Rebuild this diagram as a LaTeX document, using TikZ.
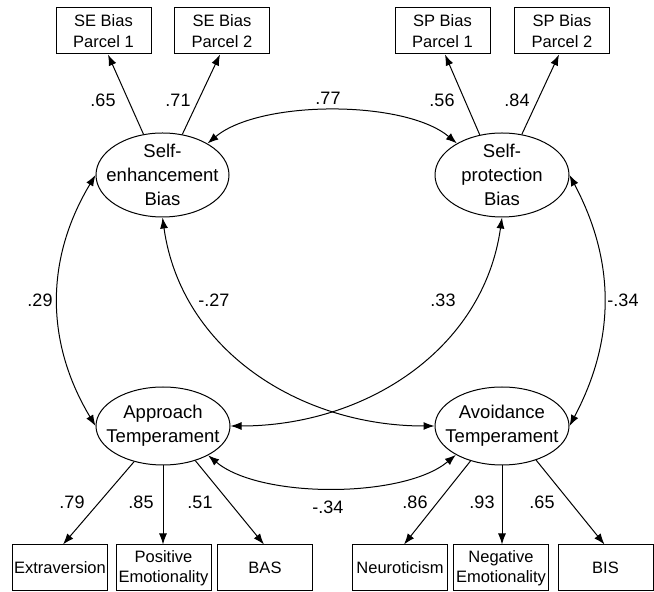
\documentclass[tikz,border=0pt]{standalone}
\usepackage{fontspec}
\setmainfont{Liberation Sans}
\usetikzlibrary{shapes.geometric,arrows.meta}
\tikzset{
	latent/.style={draw,ellipse,inner sep=0pt,line width=1pt,minimum width=134pt,minimum height=78pt}, % latent factors
	latenttext/.style={align=center,font=\fontsize{18.5}{24}\selectfont},
	indicator/.style={draw,rectangle,inner sep=0pt,line width=1pt,minimum width=95pt,minimum height=46pt,align=center,font=\fontsize{16.5}{20.5}\selectfont}, % observed measures
	loading/.style={-{Latex[length=11pt,width=8pt]},line width=1pt},
	corr/.style={{Latex[length=11pt,width=8pt]}-{Latex[length=11pt,width=8pt]},line width=1pt},
	coef/.style={font=\fontsize{18}{20}\selectfont}
}
\begin{document}
\begin{tikzpicture}[x=1pt,y=1pt]
		\useasboundingbox (0,0) rectangle (654,592);
		% Draw latent factors
		\node[latent,minimum width=133pt,minimum height=84pt,label={[latenttext]center:Self-\\enhancement\\Bias}] (se) at (162.5,417) {};
		\node[latent,minimum height=84pt,label={[latenttext]center:Self-\\protection\\Bias}] (sp) at (502,417) {};
		\node[latent,label={[latenttext]center:Approach\\Temperament}] (ap) at (163,166) {};
		\node[latent,label={[latenttext]center:Avoidance\\Temperament}] (av) at (502,166) {};
		% Draw indicators
		\node[indicator] (sep1) at (103.5,561) {SE Bias\\Parcel 1};
		\node[indicator] (sep2) at (222,561) {SE Bias\\Parcel 2};
		\node[indicator] (spp1) at (442.5,561) {SP Bias\\Parcel 1};
		\node[indicator] (spp2) at (562,561) {SP Bias\\Parcel 2};
		\node[indicator] (ext) at (60,24) {Extraversion};
		\node[indicator] (pos) at (163.5,24) {Positive\\Emotionality};
		\node[indicator] (bas) at (265,24) {BAS};
		\node[indicator] (neu) at (400,24) {Neuroticism};
		\node[indicator] (neg) at (501,24) {Negative\\Emotionality};
		\node[indicator] (bis) at (605.5,24) {BIS};
		% Draw loadings
		\draw[loading] (se.115) -- ([xshift=4.5pt]sep1.south);
		\draw[loading] (se.64) -- ([xshift=-2pt]sep2.south);
		\draw[loading] (sp.119) -- ([xshift=2.5pt]spp1.south);
		\draw[loading] (sp.64) -- ([xshift=-3pt]spp2.south);
		\draw[loading] (ap.231) -- ([xshift=3pt]ext.north);
		\draw[loading] (ap.south) -- (ap.south |- pos.north);
		\draw[loading] (ap.313) -- ([xshift=-1pt]bas.north);
		\draw[loading] (av.228) -- ([xshift=4pt]neu.north);
		\draw[loading] (av.south) -- (av.south |- neg.north);
		\draw[loading] (av.315) -- ([xshift=-1pt]bis.north);
		% Draw correlations
		\draw[corr] (se.35) to[out=40,in=140,looseness=0.7] (sp.145);
		\draw[corr] (se.west) to[out=239,in=121] (ap.west);
		\draw[corr] (sp.east) to[out=-62,in=62] (av.east);
		\draw[corr] (se.south) to[out=-82,in=180] (av.west);
		\draw[corr] (sp.south) to[out=-98,in=0] (ap.east);
		\draw[corr] (ap.-33) to[out=-40,in=-140,looseness=0.7] (av.-148);
		% Coefficients
		\node[coef] (c65) at (103,492) {.65};
		\node[coef] (c71) at (178,492) {.71};
		\node[coef] (c77) at (328,494) {.77};
		\node[coef] (c56) at (442,492) {.56};
		\node[coef] (c84) at (517,492) {.84};
		\node[coef] (c29) at (40,292) {.29};
		\node[coef] (c27) at (214,292) {-.27};
		\node[coef] (c33) at (443,292) {.33};
		\node[coef] (c34r) at (623,292) {-.34};
		\node[coef] (c79) at (72,90) {.79};
		\node[coef] (c85) at (141,90) {.85};
		\node[coef] (c51) at (200,90) {.51};
		\node[coef] (c34b) at (328,85) {-.34};
		\node[coef] (c86) at (415,90) {.86};
		\node[coef] (c93) at (482,90) {.93};
		\node[coef] (c65b) at (542,90) {.65};
\end{tikzpicture}
\end{document}
